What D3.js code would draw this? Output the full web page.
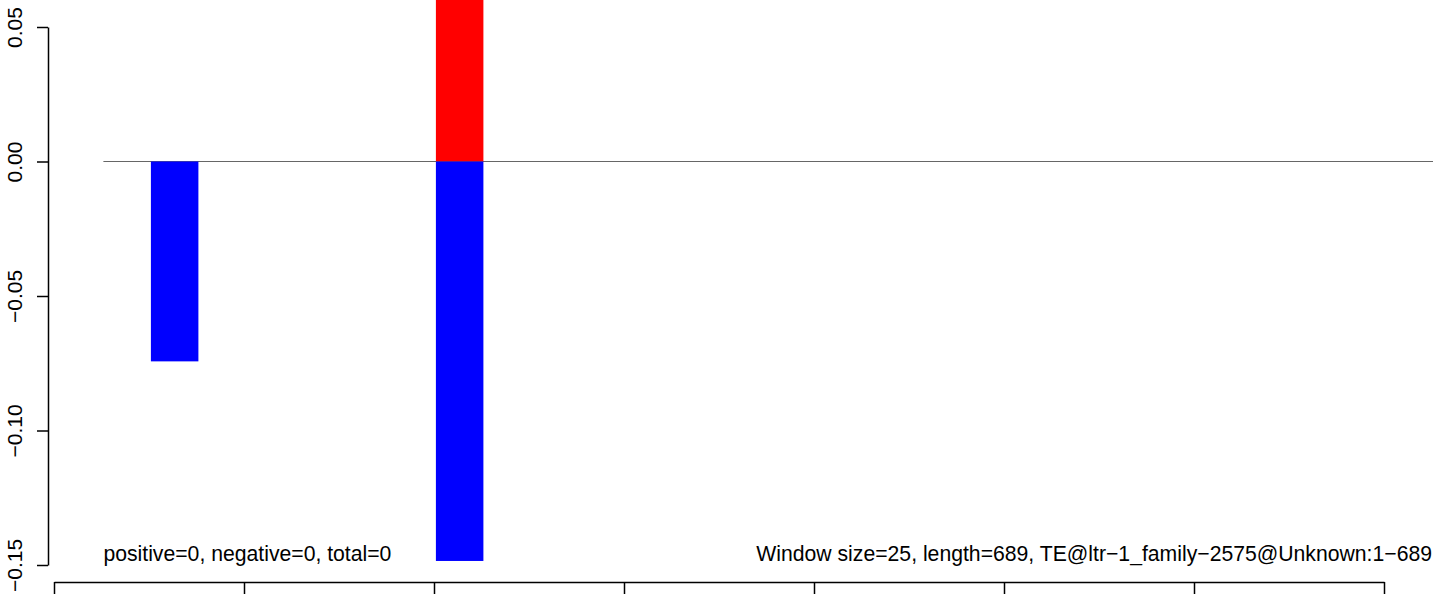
<!DOCTYPE html>
<html><head><meta charset="utf-8">
<script src="https://cdn.jsdelivr.net/npm/d3@7"></script>
<style>body{margin:0;background:#fff}svg{display:block}text{font-family:"Liberation Sans",Arial,sans-serif}</style>
</head><body><svg id="c" width="1433" height="594"></svg>
<script>
const windowStarts = [51, 201];
const windowSize = 25;
const positiveValues = [0, 0.07];
const negativeValues = [-0.0743, -0.1485];
const yTicks = [-0.15, -0.10, -0.05, 0.00, 0.05];
const xTicks = [0, 100, 200, 300, 400, 500, 600, 700];
const leftNote = "positive=0, negative=0, total=0";
const rightNote = "Window size=25, length=689, TE@ltr\u22121_family\u22122575@Unknown:1\u2212689";

const W = 1433, H = 594;
const svg = d3.select("#c");
const x = d3.scaleLinear().domain([0, 700]).range([54, 1384]);
const y = d3.scaleLinear().domain([-0.15, 0.05]).range([565, 27]);

svg.append("defs").append("clipPath").attr("id","clip")
  .append("rect").attr("x",0).attr("y",0).attr("width",W).attr("height",H);
const g = svg.append("g").attr("clip-path","url(#clip)");

// zero line
g.append("line").attr("x1", x(26)).attr("x2", W).attr("y1", y(0)).attr("y2", y(0))
  .attr("stroke","#666").attr("stroke-width",1);

// bars
windowStarts.forEach((s,i)=>{
  if (positiveValues[i] > 0) g.append("rect").attr("x", x(s)).attr("width", x(s+windowSize)-x(s))
    .attr("y", y(positiveValues[i])).attr("height", y(0)-y(positiveValues[i])).attr("fill","#ff0000");
  if (negativeValues[i] < 0) g.append("rect").attr("x", x(s)).attr("width", x(s+windowSize)-x(s))
    .attr("y", y(0)).attr("height", y(negativeValues[i])-y(0)).attr("fill","#0000ff");
});

// y axis
const fmt = v => (v<0?"\u2212":"") + Math.abs(v).toFixed(2);
const ya = svg.append("g").attr("transform","translate(48,0)")
  .call(d3.axisLeft(y).tickValues(yTicks).tickFormat(fmt).tickSize(11).tickSizeOuter(0));
ya.select(".domain").attr("stroke","#000").attr("stroke-width",1.5);
ya.selectAll(".tick line").attr("stroke","#000").attr("stroke-width",1.5);
ya.selectAll(".tick text").attr("font-size",21).attr("fill","#000")
  .attr("transform","rotate(-90)").attr("text-anchor","middle").attr("x",0).attr("y",-26).attr("dy",0);

// x axis
const xa = svg.append("g").attr("transform","translate(0,582)")
  .call(d3.axisBottom(x).tickValues(xTicks).tickFormat("").tickSize(14).tickSizeOuter(0));
xa.select(".domain").attr("stroke","#000").attr("stroke-width",1.5);
xa.selectAll(".tick line").attr("stroke","#000").attr("stroke-width",1.5);

// notes
svg.append("text").attr("x", x(26)).attr("y", 561).attr("font-size",21.2).text(leftNote);
svg.append("text").attr("x", W-1).attr("y", 561).attr("font-size",21.2).attr("text-anchor","end").text(rightNote);
</script></body></html>
